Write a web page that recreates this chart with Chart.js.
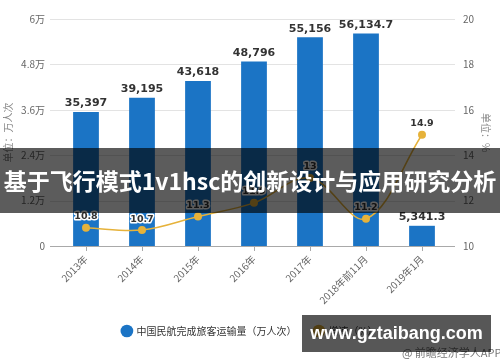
<!DOCTYPE html>
<html>
<head>
<meta charset="utf-8">
<script src="https://cdn.jsdelivr.net/npm/chart.js@4.4.1/dist/chart.umd.min.js"></script>
<style>
  body { margin: 0; background: #fff; }
  #wrap { position: relative; width: 500px; height: 362px; overflow: hidden; }
  #banner {
    position: absolute; left: 0; top: 148px; width: 500px; height: 65px;
    background: rgba(0, 0, 0, 0.64); color: #fff; text-align: center;
    font: bold 23px "Noto Sans CJK SC", sans-serif; line-height: 65px; white-space: nowrap;
  }
  #credit {
    position: absolute; left: 402px; top: 344px;
    font: 11px "Noto Sans CJK SC", sans-serif; color: #777; white-space: nowrap;
  }
  #site {
    position: absolute; left: 302px; top: 315px; width: 189px; height: 37px;
    background: rgba(0, 0, 0, 0.66); color: #fff; text-align: center;
    font: bold 18px "Liberation Sans", sans-serif; line-height: 37px;
  }
</style>
</head>
<body>
<div id="wrap">
  <canvas id="chart" width="500" height="362"></canvas>
  <div id="banner">基于飞行模式1v1hsc的创新设计与应用研究分析</div>
  <div id="credit">@ 前瞻经济学人APP</div>
  <div id="site">www.gztaibang.com</div>
</div>
<script>
const labels = ['2013年', '2014年', '2015年', '2016年', '2017年', '2018年前11月', '2019年1月']
const passengers = [35397, 39195, 43618, 48796, 55156, 56134.7, 5341.3]
const growth = [10.8, 10.7, 11.3, 11.9, 13, 11.2, 14.9]

const blue = '#1b74c5'
const gold = '#e6b23a'

Chart.defaults.font.family = '"Noto Sans CJK SC", "Noto Sans", sans-serif'
Chart.defaults.color = '#666'

const fmt = (v) => v.toLocaleString('en-US', { maximumFractionDigits: 1 })

// gridlines run a little past the category band, like the original
const gridLines = {
  id: 'gridLines',
  beforeDatasetsDraw(chart) {
    const { ctx, chartArea, scales: { y } } = chart
    ctx.save()
    ctx.lineWidth = 1
    y.ticks.forEach((t) => {
      const py = Math.round(y.getPixelForValue(t.value)) + 0.5
      ctx.strokeStyle = t.value === 0 ? '#a9a9a9' : '#e3e3e3'
      ctx.beginPath()
      ctx.moveTo(chartArea.left - 8, py)
      ctx.lineTo(chartArea.right + 5, py)
      ctx.stroke()
    })
    ctx.restore()
  }
}

const valueLabels = {
  id: 'valueLabels',
  afterDatasetsDraw(chart) {
    const { ctx } = chart
    ctx.save()
    ctx.textAlign = 'center'

    ctx.font = 'bold 11px "DejaVu Sans"'
    ctx.fillStyle = '#333'
    ctx.textBaseline = 'bottom'
    chart.getDatasetMeta(1).data.forEach((bar, i) => {
      ctx.fillText(fmt(passengers[i]), bar.x, bar.y - 3)
    })

    ctx.font = 'bold 9.5px "DejaVu Sans"'
    ctx.textBaseline = 'middle'
    ctx.lineWidth = 3
    ctx.lineJoin = 'round'
    ctx.strokeStyle = '#fff'
    chart.getDatasetMeta(0).data.forEach((pt, i) => {
      ctx.strokeText(String(growth[i]), pt.x, pt.y - 11)
      ctx.fillText(String(growth[i]), pt.x, pt.y - 11)
    })
    ctx.restore()
  }
}

new Chart(document.getElementById('chart'), {
  data: {
    labels: labels,
    datasets: [
      {
        type: 'line',
        label: '增速（%）',
        data: growth,
        yAxisID: 'y1',
        borderColor: gold,
        backgroundColor: gold,
        borderWidth: 1.5,
        pointRadius: 4,
        pointBorderWidth: 0,
        pointStyle: 'circle',
        tension: 0.35,
      },
      {
        type: 'bar',
        label: '中国民航完成旅客运输量（万人次）',
        data: passengers,
        yAxisID: 'y',
        backgroundColor: blue,
        categoryPercentage: 1,
        barPercentage: 0.46,
      },
    ]
  },
  options: {
    responsive: false,
    animation: false,
    layout: { padding: { top: 12, bottom: 16, left: 0, right: 0 } },
    plugins: {
      tooltip: { enabled: false },
      legend: {
        position: 'bottom',
        reverse: true,
        labels: {
          usePointStyle: true,
          pointStyle: 'circle',
          boxWidth: 9,
          boxHeight: 9,
          padding: 18,
          color: '#333',
          font: { size: 10 },
        }
      }
    },
    scales: {
      x: {
        offset: true,
        grid: { display: true, drawOnChartArea: false, drawTicks: true, tickLength: 5, color: '#a9a9a9', offset: false },
        border: { display: false },
        ticks: { minRotation: 45, maxRotation: 45, padding: 2, font: { size: 10 }, color: '#666' },
        afterFit: (scale) => { scale.height = 62 },
      },
      y: {
        position: 'left',
        min: 0,
        max: 60000,
        grid: { display: false, drawTicks: false },
        border: { display: false },
        ticks: {
          stepSize: 12000,
          padding: 13,
          font: { size: 10 },
          color: '#666',
          callback: (v) => v === 0 ? '0' : (v / 10000) + '万',
        },
        title: { display: true, text: '单位：万人次', color: '#888', font: { size: 10 }, padding: { top: 2, bottom: 0 } },
        afterFit: (scale) => { scale.width = 58 },
      },
      y1: {
        position: 'right',
        min: 10,
        max: 20,
        grid: { display: false, drawTicks: false },
        border: { display: false },
        ticks: { stepSize: 2, padding: 13, font: { size: 10 }, color: '#666' },
        title: { display: true, text: '单位：%', color: '#888', font: { size: 10 }, padding: { top: 8, bottom: 0 } },
        afterFit: (scale) => { scale.width = 50 },
      },
    }
  },
  plugins: [gridLines, valueLabels]
})
</script>
</body>
</html>
